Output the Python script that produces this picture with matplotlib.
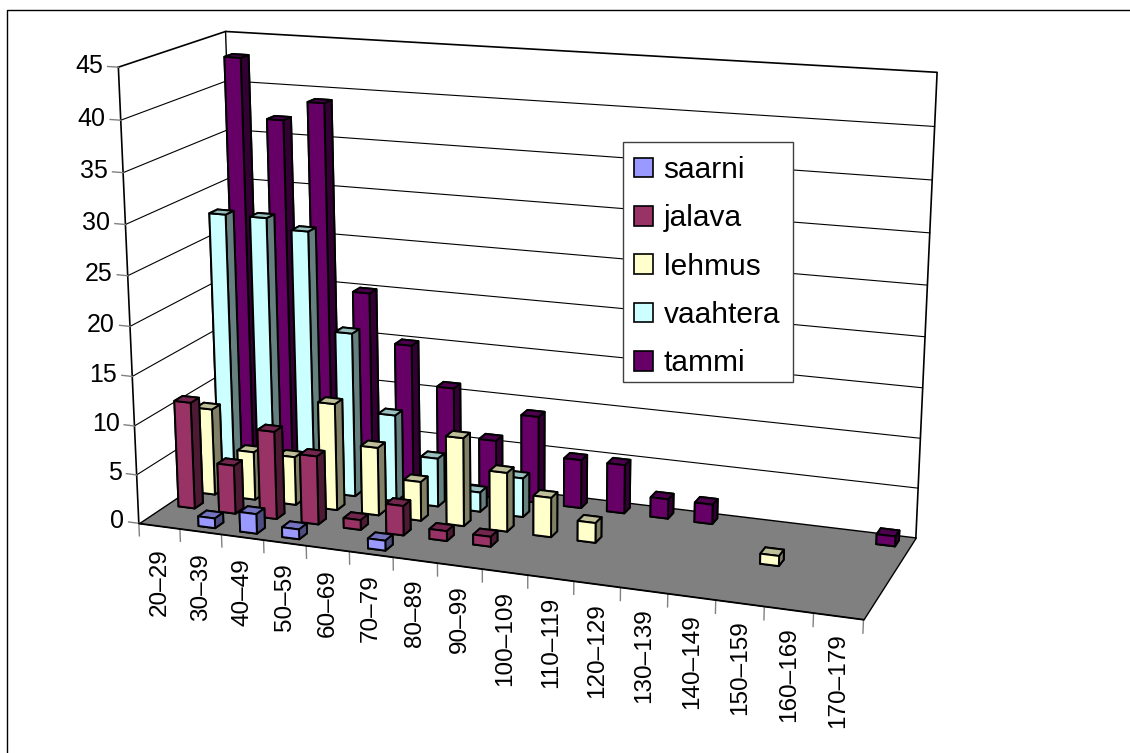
import numpy as np
import matplotlib
matplotlib.use("Agg")
import matplotlib.pyplot as plt
from matplotlib.lines import Line2D
from matplotlib.patches import Patch, Rectangle
from mpl_toolkits.mplot3d import proj3d
from mpl_toolkits.mplot3d.art3d import Poly3DCollection

plt.rcParams['font.family'] = ['Liberation Sans', 'DejaVu Sans']

ages = ['20–29', '30–39', '40–49', '50–59', '60–69', '70–79', '80–89', '90–99',
        '100–109', '110–119', '120–129', '130–139', '140–149', '150–159',
        '160–169', '170–179']

# tree counts per age class
saarni = [0, 1, 2, 1, 0, 1, 0, 0, 0, 0, 0, 0, 0, 0, 0, 0]
jalava = [11, 5, 9, 7, 1, 3, 1, 1, 0, 0, 0, 0, 0, 0, 0, 0]
lehmus = [9, 5, 5, 11, 7, 4, 9, 6, 4, 2, 0, 0, 0, 1, 0, 0]
vaahtera = [28, 28, 27, 17, 9, 5, 2, 4, 0, 0, 0, 0, 0, 0, 0, 0]
tammi = [43, 37, 39, 20, 15, 11, 6, 9, 5, 5, 2, 2, 0, 0, 0, 1]

names = ['saarni', 'jalava', 'lehmus', 'vaahtera', 'tammi']
series = [saarni, jalava, lehmus, vaahtera, tammi]
colors = ['#9999FF', '#993366', '#FFFFCC', '#CCFFFF', '#660066']
yticks = [0, 5, 10, 15, 20, 25, 30, 35, 40, 45]

W, H = 1130, 753
nx, ny, zmax = len(ages), len(series), yticks[-1]

fig = plt.figure(figsize=(W / 100, H / 100), dpi=100)
ax = fig.add_axes([0, 0, 1, 1], projection='3d')
ax.apply_aspect = lambda position=None: None  # let the axes fill the figure
ax.set_axis_off()
ax.computed_zorder = False

# camera: where the box corners and floor ticks land on the canvas (px, y down)
camera_pts = [
    ((0, 0, 0), (137, 522)), ((nx, 0, 0), (863, 620)),
    ((nx, ny, 0), (915, 537)), ((0, ny, 0), (240, 457)),
    ((0, 0, zmax), (118, 68)), ((0, ny, zmax), (226, 31)),
    ((nx, ny, zmax), (937, 72)),
    ((4, 0, 0), (307, 545)), ((8, 0, 0), (483, 569)), ((12, 0, 0), (669, 594)),
]


def fit_camera():
    A = []
    for (x, y, z), (px, py) in camera_pts:
        u, v = ax.transData.inverted().transform((px, H - py))
        A.append([x, y, z, 1, 0, 0, 0, 0, -u * x, -u * y, -u * z, -u])
        A.append([0, 0, 0, 0, x, y, z, 1, -v * x, -v * y, -v * z, -v])
    P = np.linalg.svd(np.array(A))[2][-1].reshape(3, 4)
    if P[2] @ [0, 0, 0, 1] < 0:
        P = -P
    # depth row gives -1/w, so points further away sort first
    return np.vstack([P[0], P[1], [0, 0, 0, -1], P[2]])


M = fit_camera()
ax.get_proj = lambda: M


def flat_text(x, y, z, s, drop=0, **kw):
    # Text3D turns with the projected direction, labels here stay upright
    u, v, _ = proj3d.proj_transform(x, y, z, M)
    px, py = ax.transData.transform((u, v))
    fig.text(px / W, (py - drop) / H, s, **kw)


# floor
floor = Poly3DCollection([[(0, 0, 0), (nx, 0, 0), (nx, ny, 0), (0, ny, 0)]],
                         facecolor='#808080', edgecolor='k', linewidth=1.0, zorder=2)
ax.add_collection3d(floor)

# gridlines on the walls, then the wall outline
for v in yticks[1:-1]:
    ax.plot([0, 0, nx], [0, ny, ny], [v, v, v], color='k', lw=0.8, zorder=1)
ax.plot([0, 0, nx, nx], [0, ny, ny, ny], [zmax, zmax, zmax, 0], color='k', lw=1.2, zorder=1)
ax.plot([0, 0], [0, 0], [0, zmax], color='k', lw=1.2, zorder=1)
ax.plot([0, 0], [ny, ny], [0, zmax], color='k', lw=1.0, zorder=1)
ax.plot([0, nx], [0, 0], [0, 0], color='k', lw=1.0, zorder=2)

# value axis
for v in yticks:
    ax.plot([-0.25, 0], [0, 0], [v, v], color='#808080', lw=1.0, zorder=1)
    flat_text(-0.36, 0, v, str(v), ha='right', va='center', fontsize=18)

# category axis
for i in range(nx + 1):
    ax.plot([i, i], [0, 0], [0, -1.3], color='#808080', lw=1.0, zorder=1)
for i, lab in enumerate(ages):
    flat_text(i + 0.5, 0, 0, lab, drop=22 - i / 3, rotation=90, ha='center', va='top',
              fontsize=17.5)


def shade(col, f):
    r, g, b, _ = matplotlib.colors.to_rgba(col)
    return (r * f, g * f, b * f)


# bars, back row first
order = 10
for j in range(ny - 1, -1, -1):
    c = colors[j]
    faces = [c, shade(c, 0.75), c, c, c, shade(c, 0.5)]
    for i, val in enumerate(series[j]):
        if val == 0:
            continue
        ax.bar3d(i + 0.3, j + 0.3, 0, 0.4, 0.4, val, color=faces, shade=False,
                 edgecolor='k', linewidth=1.4, zorder=order)
        order += 1

# legend box and entries
fig.add_artist(Rectangle((623 / W, 1 - 382 / H), 170 / W, 240 / H, transform=fig.transFigure,
                         facecolor='white', edgecolor='#404040', linewidth=1.0, zorder=4))
handles = [Patch(facecolor=c, edgecolor='k', linewidth=1.2) for c in colors]
leg = fig.legend(handles, names, loc='upper left',
                 bbox_to_anchor=(623 / W, 1 - 145 / H), borderaxespad=0,
                 fontsize=21.5, handlelength=0.64, handleheight=0.64,
                 labelspacing=0.68, handletextpad=0.35, borderpad=0.37,
                 frameon=False)
leg.set_zorder(5)

# chart border, only the top and left edges
fig.add_artist(Line2D([7 / W, 7 / W, 1], [0, 1 - 10 / H, 1 - 10 / H],
                      transform=fig.transFigure, color='k', lw=1.0))

fig.savefig('out.png', dpi=100)
